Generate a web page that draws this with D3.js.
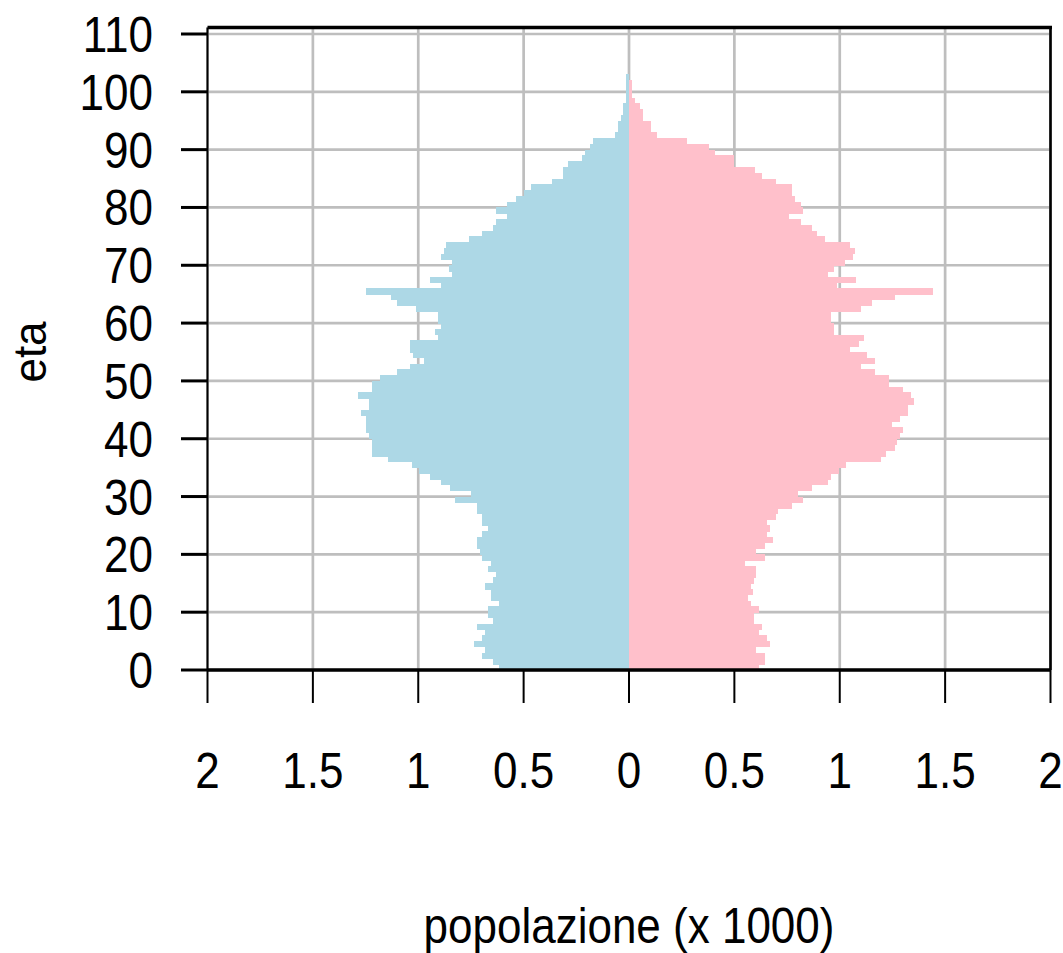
<!DOCTYPE html>
<html lang="it">
<head>
<meta charset="UTF-8">
<title>Piramide delle età</title>
<script src="https://d3js.org/d3.v7.min.js"></script>
<style>
  body { margin: 0; padding: 0; background: #fff; }
  svg { display: block; }
  .lbl { font-family: "Liberation Sans", Arial, sans-serif; font-size: 50px; fill: #000; }
</style>
</head>
<body>
<script>
// popolazione per singolo anno di età (migliaia), età 0..102
const ages = d3.range(0, 103);
const maschi = [
  0.617, 0.645, 0.697, 0.683, 0.735, 0.697, 0.683, 0.721, 0.645, 0.669,
  0.669, 0.617, 0.655, 0.655, 0.683, 0.645, 0.631, 0.669, 0.655, 0.697,
  0.707, 0.721, 0.721, 0.697, 0.669, 0.697, 0.697, 0.721, 0.721, 0.825,
  0.750, 0.850, 0.892, 0.944, 0.996, 1.030, 1.143, 1.219, 1.219, 1.219,
  1.233, 1.248, 1.248, 1.248, 1.271, 1.233, 1.233, 1.286, 1.219, 1.219,
  1.181, 1.101, 1.039, 0.972, 1.025, 1.039, 1.039, 0.906, 0.920, 0.892,
  0.906, 0.906, 1.010, 1.101, 1.129, 1.248, 0.892, 0.944, 0.840, 0.854,
  0.840, 0.892, 0.880, 0.868, 0.759, 0.697, 0.645, 0.631, 0.579, 0.631,
  0.579, 0.536, 0.498, 0.465, 0.365, 0.313, 0.313, 0.289, 0.223, 0.209,
  0.185, 0.171, 0.066, 0.052, 0.052, 0.038, 0.028, 0.028, 0.014, 0.014,
  0.014, 0.014, 0.014
];
const femmine = [
  0.617, 0.645, 0.645, 0.602, 0.669, 0.655, 0.617, 0.631, 0.593, 0.593,
  0.617, 0.579, 0.565, 0.590, 0.579, 0.593, 0.602, 0.602, 0.550, 0.645,
  0.602, 0.645, 0.683, 0.655, 0.669, 0.655, 0.697, 0.707, 0.773, 0.825,
  0.802, 0.868, 0.944, 0.958, 0.996, 1.030, 1.195, 1.219, 1.262, 1.271,
  1.286, 1.300, 1.248, 1.286, 1.324, 1.324, 1.350, 1.338, 1.300, 1.233,
  1.233, 1.167, 1.101, 1.167, 1.129, 1.048, 1.091, 1.115, 0.972, 0.972,
  0.958, 0.958, 1.101, 1.153, 1.262, 1.442, 0.987, 1.077, 0.944, 0.972,
  1.025, 1.063, 1.070, 1.048, 0.930, 0.892, 0.868, 0.816, 0.759, 0.825,
  0.816, 0.787, 0.773, 0.773, 0.697, 0.631, 0.600, 0.498, 0.498, 0.408,
  0.380, 0.275, 0.133, 0.104, 0.104, 0.066, 0.066, 0.052, 0.028, 0.014,
  0.014, 0.014, 0.000
];
const xTicks = [-2, -1.5, -1, -0.5, 0, 0.5, 1, 1.5, 2];
const yTicks = d3.range(0, 111, 10);

const W = 1063, H = 953;
const svg = d3.select("body").append("svg")
  .attr("width", W).attr("height", H);

const x = d3.scaleLinear().domain([-2, 2]).range([207.5, 1050.5]);
const y = d3.scaleLinear().domain([0, 110]).range([670, 34]);
const yTop = 27.5;

// griglia
const grid = svg.append("g").attr("stroke", "#bebebe").attr("stroke-width", 2.7);
grid.selectAll(".gv").data(xTicks).enter().append("line")
  .attr("x1", d => x(d)).attr("x2", d => x(d))
  .attr("y1", yTop).attr("y2", y(0));
grid.selectAll(".gh").data(yTicks).enter().append("line")
  .attr("x1", x(-2)).attr("x2", x(2))
  .attr("y1", d => y(d)).attr("y2", d => y(d));

// barre
svg.append("g").attr("shape-rendering", "crispEdges")
  .selectAll("rect").data(ages).enter().append("rect")
  .attr("x", d => x(-maschi[d]))
  .attr("width", d => x(0) - x(-maschi[d]))
  .attr("y", d => y(d + 1))
  .attr("height", d => y(d) - y(d + 1) + 0.5)
  .attr("fill", "lightblue");
svg.append("g").attr("shape-rendering", "crispEdges")
  .selectAll("rect").data(ages).enter().append("rect")
  .attr("x", x(0))
  .attr("width", d => x(femmine[d]) - x(0))
  .attr("y", d => y(d + 1))
  .attr("height", d => y(d) - y(d + 1) + 0.5)
  .attr("fill", "pink");

// cornice
svg.append("line").attr("x1", x(-2)).attr("x2", x(2) + 1.5)
  .attr("y1", yTop).attr("y2", yTop).attr("stroke", "#000").attr("stroke-width", 3.4);
svg.append("line").attr("x1", x(2)).attr("x2", x(2))
  .attr("y1", yTop).attr("y2", y(0)).attr("stroke", "#000").attr("stroke-width", 2.6);
svg.append("line").attr("x1", x(-2)).attr("x2", x(-2))
  .attr("y1", yTop).attr("y2", y(0)).attr("stroke", "#000").attr("stroke-width", 2);

// asse x (all'età 0)
svg.append("line").attr("x1", x(-2)).attr("x2", x(2))
  .attr("y1", y(0)).attr("y2", y(0)).attr("stroke", "#000").attr("stroke-width", 3.4);
svg.append("g").selectAll("line").data(xTicks).enter().append("line")
  .attr("x1", d => x(d)).attr("x2", d => x(d))
  .attr("y1", y(0)).attr("y2", 703)
  .attr("stroke", "#000").attr("stroke-width", 2);
svg.append("g").selectAll("text").data(xTicks).enter().append("text")
  .attr("class", "lbl")
  .attr("text-anchor", "middle")
  .attr("transform", d => `translate(${x(d)},788) scale(0.88,1)`)
  .text(d => d3.format("")(Math.abs(d)));

// asse y
svg.append("g").selectAll("line").data(yTicks).enter().append("line")
  .attr("x1", 181).attr("x2", x(-2))
  .attr("y1", d => y(d)).attr("y2", d => y(d))
  .attr("stroke", "#000").attr("stroke-width", 3);
svg.append("g").selectAll("text").data(yTicks).enter().append("text")
  .attr("class", "lbl")
  .attr("text-anchor", "end")
  .attr("transform", d => `translate(153,${y(d) + 18}) scale(0.88,1)`)
  .text(d => d);

// titoli
svg.append("text").attr("class", "lbl")
  .attr("text-anchor", "middle")
  .attr("transform", "translate(46,352) rotate(-90) scale(0.88,0.92)")
  .text("eta");
svg.append("text").attr("class", "lbl")
  .attr("text-anchor", "middle")
  .attr("transform", "translate(629,943) scale(0.88,1)")
  .text("popolazione (x 1000)");
</script>
</body>
</html>
